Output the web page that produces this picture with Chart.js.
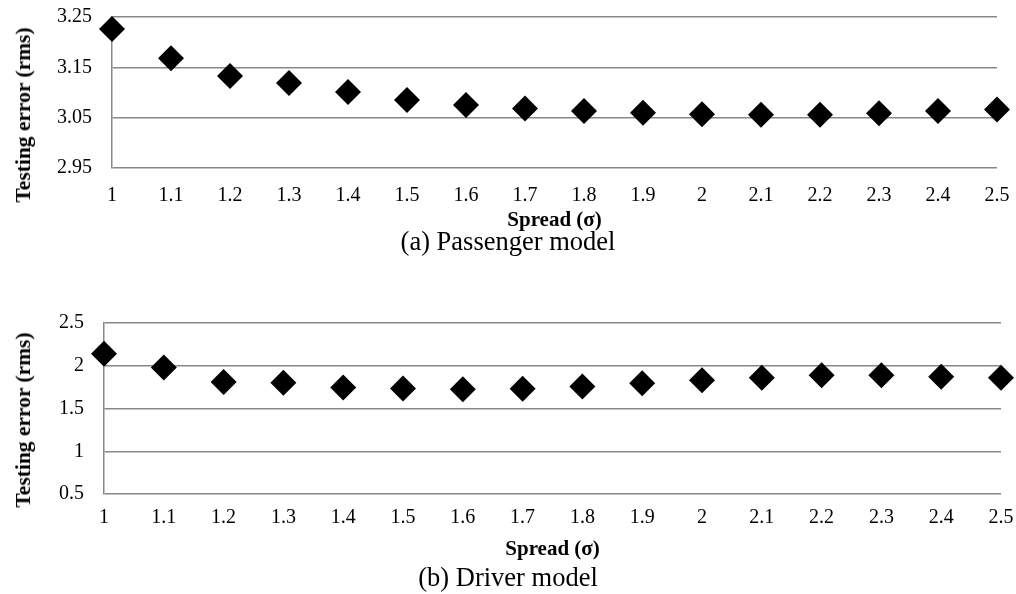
<!DOCTYPE html>
<html>
<head>
<meta charset="utf-8">
<script src="https://cdn.jsdelivr.net/npm/chart.js@4"></script>
<style>
  body { margin: 0; background: #fff; width: 1016px; height: 594px; position: relative; overflow: hidden; }
  .box { position: absolute; left: 0; width: 1016px; }
  .cap { position: absolute; left: 0; width: 1016px; text-align: center; line-height: 30px;
         font-family: "Liberation Serif", serif; font-size: 26.5px; color: #000; }
  .ytitle { position: absolute; transform: translate(-50%, -50%) rotate(-90deg); white-space: nowrap;
            font-family: "Liberation Serif", serif; font-weight: bold; font-size: 21.5px; line-height: 26px; color: #000; }
</style>
</head>
<body>
<div class="box" style="top:0; height:236px"><canvas id="passenger"></canvas></div>
<div class="ytitle" style="left:23px; top:115px">Testing error (rms)</div>
<div class="cap" style="top:226px">(a) Passenger model</div>
<div class="box" style="top:306px; height:262px"><canvas id="driver"></canvas></div>
<div class="ytitle" style="left:23px; top:420px">Testing error (rms)</div>
<div class="cap" style="top:562px">(b) Driver model</div>
<script>
const spread = ['1', '1.1', '1.2', '1.3', '1.4', '1.5', '1.6', '1.7', '1.8', '1.9', '2', '2.1', '2.2', '2.3', '2.4', '2.5'];
const passengerErr = [3.226, 3.168, 3.133, 3.119, 3.101, 3.085, 3.075, 3.068, 3.063, 3.060, 3.057, 3.056, 3.056, 3.059, 3.063, 3.066];
const driverErr = [2.14, 1.98, 1.81, 1.80, 1.745, 1.733, 1.725, 1.73, 1.756, 1.795, 1.83, 1.86, 1.89, 1.89, 1.87, 1.86];
const passengerTicks = { min: 2.95, max: 3.25, step: 0.1, dec: 2 };
const driverTicks = { min: 0.5, max: 2.5, step: 0.5, dec: 1 };

const serif = "'Liberation Serif', 'Times New Roman', serif";

// box = sizes of the axis areas so that both panels line up with the figure
function graphSpread(id, values, t, box) {
  new Chart(document.getElementById(id), {
    type: 'line',
    data: {
      labels: spread,
      datasets: [{
        data: values,
        showLine: false,
        pointStyle: 'rectRot',
        pointRadius: 13,
        pointHoverRadius: 13,
        backgroundColor: '#000',
        borderColor: '#000',
        borderWidth: 0,
        clip: false
      }]
    },
    options: {
      responsive: true,
      maintainAspectRatio: false,
      animation: false,
      layout: { autoPadding: false, padding: { top: 17, left: 9, right: box.right, bottom: 0 } },
      plugins: { legend: { display: false }, tooltip: { enabled: false } },
      scales: {
        x: {
          type: 'category',
          offset: false,
          afterFit: s => { s.height = box.xh; s.paddingLeft = 0; s.paddingRight = 0; },
          grid: { display: false, drawTicks: false, tickLength: 0 },
          border: { display: false },
          ticks: { color: '#000', font: { family: serif, size: 20 }, padding: box.xpad, maxRotation: 0, autoSkip: false },
          title: { display: true, text: 'Spread (σ)', color: '#000', font: { family: serif, size: 21, weight: 'bold' }, padding: { top: 0, bottom: box.tpad } }
        },
        y: {
          min: t.min,
          max: t.max,
          afterFit: s => { s.width = box.yw; s.paddingTop = 0; s.paddingBottom = 0; },
          grid: { color: '#888', lineWidth: 1.5, drawTicks: false, tickLength: 0 },
          border: { display: true, color: '#888', width: 1.5 },
          ticks: {
            stepSize: t.step,
            color: '#000',
            font: { family: serif, size: 20 },
            padding: 20,
            callback: v => String(+v.toFixed(t.dec))
          },
          title: { display: false }
        }
      }
    }
  });
}

graphSpread('passenger', passengerErr, passengerTicks, { right: 19, yw: 103, xh: 68, xpad: 16, tpad: 3 });
graphSpread('driver', driverErr, driverTicks, { right: 15, yw: 95, xh: 74, xpad: 12, tpad: 6 });
</script>
</body>
</html>
